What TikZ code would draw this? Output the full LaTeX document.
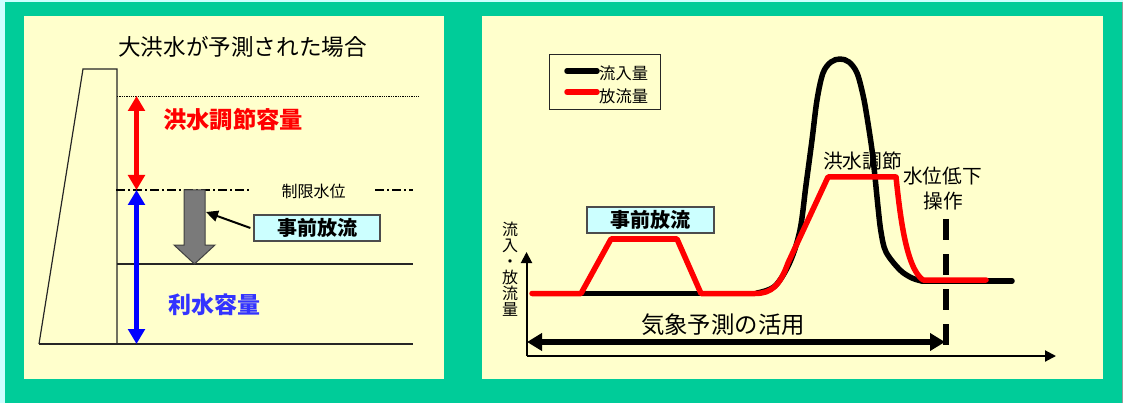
\documentclass[tikz,border=0pt]{standalone}
\usepackage{fontspec}
\setmainfont{Noto Sans CJK JP}
\usetikzlibrary{arrows.meta}
\definecolor{bggreen}{HTML}{00CC99}
\definecolor{panel}{HTML}{FFFFCC}
\definecolor{paleblue}{HTML}{CCFFFF}
\definecolor{txtblue}{HTML}{3333FF}
\tikzset{
  thinline/.style={draw=black!85,line width=1.2pt},
  dbl/.style={line width=5.5pt,{Triangle[length=15pt,width=16.5pt]}-{Triangle[length=15pt,width=16.5pt]}},
  lab/.style={inner sep=0pt,font=\fontsize{#1}{#1}\selectfont},
  labb/.style={inner sep=0pt,font=\fontsize{#1}{#1}\selectfont\bfseries},
  notebox/.style={draw=black!70,fill=paleblue,line width=1.2pt,inner sep=0pt,font=\fontsize{20}{20}\selectfont\bfseries},
  curve/.style={line width=5.5pt,line cap=round,line join=round},
  axis/.style={line width=2pt,-{Triangle[length=11pt,width=11pt]}}
}
\begin{document}
\begin{tikzpicture}[x=1pt,y=-1pt]
\useasboundingbox (0,0) rectangle (1123,403);
\fill[paleblue] (0,0) rectangle (1123,403);
\fill[bggreen] (5,2) rectangle (1122,403);
\fill[black!40] (1122,2) rectangle (1123,403);
\fill[panel] (24,16) rectangle (444,379);
\fill[panel] (482,16) rectangle (1103,379);
% left panel
\node[lab=22.6] (title) at (242.5,46.5) {大洪水が予測された場合};
\coordinate (d1) at (39,344); \coordinate (d2) at (83,69); \coordinate (d3) at (117,69); \coordinate (d4) at (117,344);
\draw[thinline] (d1) -- (d2) -- (d3) -- (d4);
\coordinate (b2) at (413,344); \coordinate (l1) at (117,264); \coordinate (l2) at (413,264);
\draw[thinline] (d1) -- (b2);
\draw[thinline] (l1) -- (l2);
\coordinate (t1) at (117,96.5); \coordinate (t2) at (419,96.5);
\draw[line width=1.6pt,dash pattern=on 1.3pt off 1pt] (t1) -- (t2);
\coordinate (m1) at (116,190); \coordinate (m2) at (251,190); \coordinate (m3) at (375,190); \coordinate (m4) at (413,190);
\draw[line width=1.6pt,dash pattern=on 9pt off 3pt on 2pt off 3pt] (m1) -- (m2);
\draw[line width=1.6pt,dash pattern=on 9pt off 3pt on 2pt off 3pt] (m3) -- (m4);
\node[lab=16] (seigen) at (313.5,191) {制限水位};
\coordinate (ra) at (136.5,96); \coordinate (rb) at (136.5,190); \coordinate (bb) at (136.5,344);
\draw[dbl,red] (ra) -- (rb);
\draw[dbl,blue] (rb) -- (bb);
\node[labb=23.3,text=red] (kozui) at (233,120) {洪水調節容量};
\node[labb=23,text=txtblue] (risui) at (214,305) {利水容量};
\draw[draw=black!75,fill=black!52,line width=1pt] (184,190) -- (205,190) -- (205,245) -- (215,245) -- (194.5,264) -- (174,245) -- (184,245) -- cycle;
\node[notebox,minimum width=126pt,minimum height=26pt] (jizen1) at (317,228) {事前放流};
\coordinate (shaft) at (206,212);
\draw[line width=2pt,-{Triangle[length=12pt,width=11pt]}] (jizen1.west) ++(-3,0) -- (shaft);
% right panel
\node[draw=black!85,line width=1.2pt,minimum width=110.5pt,minimum height=55pt,inner sep=0pt] (legend) at (605,82) {};
\coordinate (k1) at (567,71); \coordinate (k2) at (597,71); \coordinate (h1) at (567,92); \coordinate (h2) at (597,92);
\draw[curve,black] (k1) -- (k2);
\draw[curve,red] (h1) -- (h2);
\node[lab=16.3,anchor=west] (ryunyu) at (599,73.5) {流入量};
\node[lab=16.3,anchor=west] (horyu) at (599,96.5) {放流量};
\node[lab=16,align=center] (ylab) at (510,269.5) {\fontsize{16}{15.2}\selectfont 流\\入\\・\\放\\流\\量};
\coordinate (o) at (526.5,356); \coordinate (yt) at (526.5,252); \coordinate (xt) at (1056,356);
\draw[axis] (o) -- (yt);
\draw[axis] (o) -- (xt);
\draw[curve,black,line cap=butt] (581,293.5) -- (701,293.5);
\draw[curve,black] plot[smooth,tension=.55] coordinates {(757,293) (775,286) (790,262) (800,230) (806,185) (812,140) (817,100) (823,73) (831,62) (840,59) (849,62) (857,73) (863,95) (867,117) (872,150) (875,177) (878,207) (881,232) (886,252) (900,270) (912,278) (922,281)};
\draw[curve,black] (922,281) -- (1012,281);
\draw[curve,red] (532,293.5) -- (581,293.5) -- (611,239) -- (677,239) -- (701,293.5) -- (755,293.5) .. controls (772,293.5) and (780,285) .. (788,263) -- (828,177) -- (896,177) .. controls (900,215) and (906,268) .. (923,280) -- (986,280);
\node[notebox,minimum width=127pt,minimum height=26pt] (jizen2) at (650.5,220) {事前放流};
\node[lab=19.7] (chosetsu) at (862.5,161) {洪水調節};
\node[lab=19.7] (teika) at (942.5,176) {水位低下};
\node[lab=19.7] (sosa) at (943,201) {操作};
\node[lab=23.4] (kisho) at (723,325) {気象予測の活用};
\coordinate (da) at (946,219); \coordinate (db) at (946,346);
\draw[line width=6pt,dash pattern=on 21pt off 14pt] (da) -- (db);
\coordinate (aa) at (527,342); \coordinate (ab) at (945,342);
\draw[line width=6pt,{Triangle[length=15pt,width=17pt]}-{Triangle[length=15pt,width=17pt]}] (aa) -- (ab);
\end{tikzpicture}
\end{document}
